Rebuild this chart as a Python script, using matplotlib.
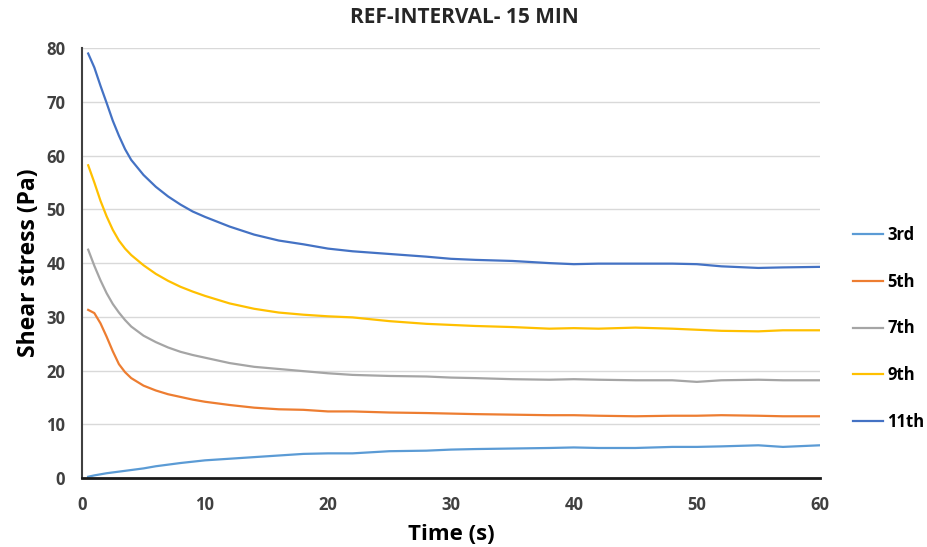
import matplotlib
matplotlib.use("Agg")
import matplotlib.pyplot as plt

plt.rcParams['font.family'] = ['Open Sans', 'DejaVu Sans']

time_s = [0.5, 1, 1.5, 2, 2.5, 3, 3.5, 4, 5, 6, 7, 8, 9, 10, 12, 14, 16, 18, 20,
          22, 25, 28, 30, 32, 35, 38, 40, 42, 45, 48, 50, 52, 55, 57, 60]

stress_3rd = [0.25, 0.5, 0.7, 0.9, 1.05, 1.2, 1.35, 1.5, 1.8, 2.2, 2.5, 2.8, 3.05,
              3.3, 3.6, 3.9, 4.2, 4.5, 4.6, 4.6, 5.0, 5.1, 5.3, 5.4, 5.5, 5.6, 5.7,
              5.6, 5.6, 5.8, 5.8, 5.9, 6.1, 5.8, 6.1]
stress_5th = [31.3, 30.7, 28.8, 26.3, 23.6, 21.2, 19.7, 18.6, 17.2, 16.3, 15.6, 15.1,
              14.6, 14.2, 13.6, 13.1, 12.8, 12.7, 12.4, 12.4, 12.2, 12.1, 12.0, 11.9,
              11.8, 11.7, 11.7, 11.6, 11.5, 11.6, 11.6, 11.7, 11.6, 11.5, 11.5]
stress_7th = [42.5, 39.5, 36.8, 34.4, 32.4, 30.8, 29.4, 28.2, 26.5, 25.3, 24.3, 23.5,
              22.9, 22.4, 21.4, 20.7, 20.3, 19.9, 19.5, 19.2, 19.0, 18.9, 18.7, 18.6,
              18.4, 18.3, 18.4, 18.3, 18.2, 18.2, 17.9, 18.2, 18.3, 18.2, 18.2]
stress_9th = [58.2, 55.0, 51.6, 48.7, 46.2, 44.2, 42.7, 41.5, 39.6, 38.0, 36.7, 35.6,
              34.7, 33.9, 32.5, 31.5, 30.8, 30.4, 30.1, 29.9, 29.2, 28.7, 28.5, 28.3,
              28.1, 27.8, 27.9, 27.8, 28.0, 27.8, 27.6, 27.4, 27.3, 27.5, 27.5]
stress_11th = [79.0, 76.4, 73.0, 69.8, 66.5, 63.7, 61.2, 59.2, 56.4, 54.2, 52.4, 50.9,
               49.6, 48.6, 46.8, 45.3, 44.2, 43.5, 42.7, 42.2, 41.7, 41.2, 40.8, 40.6,
               40.4, 40.0, 39.8, 39.9, 39.9, 39.9, 39.8, 39.4, 39.1, 39.2, 39.3]

series_labels = ['3rd', '5th', '7th', '9th', '11th']
series_values = [stress_3rd, stress_5th, stress_7th, stress_9th, stress_11th]
series_colors = ['#5B9BD5', '#ED7D31', '#A5A5A5', '#FFC000', '#4472C4']

x_ticks = [0, 10, 20, 30, 40, 50, 60]
y_ticks = [0, 10, 20, 30, 40, 50, 60, 70, 80]

fig = plt.figure(figsize=(9.28, 5.47), dpi=100)
ax = fig.add_axes([0.0884, 0.126, 0.795, 0.786])

for label, values, color in zip(series_labels, series_values, series_colors):
    ax.plot(time_s, values, color=color, linewidth=1.6, label=label,
            solid_joinstyle='round')

ax.set_xlim(0, 60)
ax.set_ylim(0, 80)
ax.set_xticks(x_ticks)
ax.set_yticks(y_ticks)
ax.tick_params(axis='both', length=0, labelsize=12, colors='#404040')
ax.tick_params(axis='x', pad=13)
ax.tick_params(axis='y', pad=12)
for lbl in ax.get_xticklabels() + ax.get_yticklabels():
    lbl.set_fontweight('bold')

ax.grid(axis='y', color='#D9D9D9', linewidth=1)
ax.set_axisbelow(True)
for side in ['top', 'right']:
    ax.spines[side].set_visible(False)
ax.spines['left'].set_color('#404040')
ax.spines['left'].set_linewidth(1.5)
ax.spines['bottom'].set_color('#1a1a1a')
ax.spines['bottom'].set_linewidth(2)

ax.set_xlabel('Time (s)', fontsize=16, fontweight='bold', labelpad=7)
ax.set_ylabel('Shear stress (Pa)', fontsize=16.5, fontweight='bold', labelpad=4)
fig.text(0.5, 0.968, 'REF-INTERVAL- 15 MIN', ha='center', va='center',
         fontsize=15, fontweight='bold', color='#262626')

leg = ax.legend(loc='center left', bbox_to_anchor=(1.045, 0.348), frameon=False,
                borderpad=0, borderaxespad=0,
                labelspacing=1.72, handlelength=1.8, handletextpad=0.25,
                prop={'weight': 'bold', 'size': 12})

fig.savefig('out.png', dpi=100)
